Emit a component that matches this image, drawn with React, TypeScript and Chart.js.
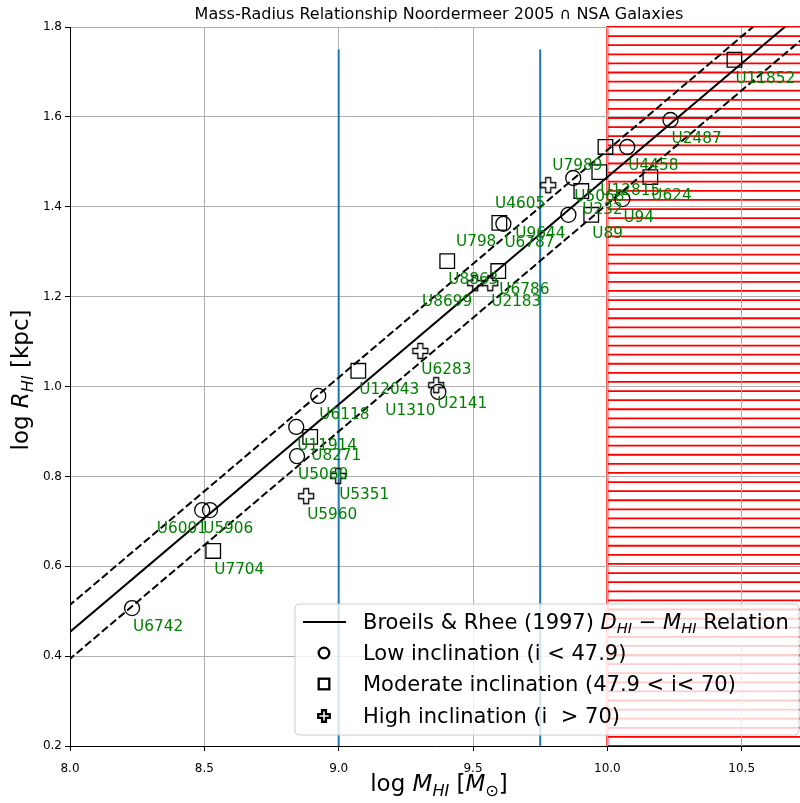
import React, { useEffect, useRef } from 'react';
import { Chart, registerables } from 'chart.js';

Chart.register(...registerables);

// ---- Galaxy samples (log M_HI [Msun], log R_HI [kpc]) ----
const lowNames = ['U6742', 'U5906', 'U6001', 'U11914', 'U5060', 'U6118', 'U1310', 'U6787', 'U9644', 'U5068', 'U4458', 'U94', 'U2487'];
const lowLogM = [8.231, 8.492, 8.521, 8.842, 8.845, 8.924, 9.371, 9.613, 9.855, 9.873, 10.074, 10.056, 10.235];
const lowLogR = [0.507, 0.725, 0.725, 0.910, 0.845, 0.979, 0.988, 1.362, 1.382, 1.464, 1.533, 1.417, 1.593];

const modNames = ['U7704', 'U8271', 'U12043', 'U8863', 'U6786', 'U798', 'U232', 'U89', 'U12815', 'U7989', 'U624', 'U11852'];
const modLogM = [8.533, 8.894, 9.073, 9.404, 9.594, 9.598, 9.903, 9.940, 9.970, 9.993, 10.160, 10.473];
const modLogR = [0.634, 0.888, 1.035, 1.279, 1.257, 1.364, 1.435, 1.382, 1.477, 1.533, 1.466, 1.727];

const highNames = ['U5960', 'U5351', 'U6283', 'U2141', 'U8699', 'U2183', 'U4605'];
const highLogM = [8.879, 8.998, 9.304, 9.363, 9.508, 9.564, 9.780];
const highLogR = [0.756, 0.801, 1.079, 1.003, 1.230, 1.230, 1.448];

// galaxies whose name is written to the left of the marker
const leftLabelNames = ['U6001', 'U7989', 'U798', 'U8699', 'U4605', 'U9644', 'U1310'];

// Broeils & Rhee (1997): log D = 0.506 log M - 3.293, with R = D / 2
const BR_SLOPE = 0.506;
const BR_INTERCEPT = -3.293 - Math.log10(2);
const BR_SCATTER = 0.06;
const LINE_X = [7.9, 11.0];

// mass limits marked with vertical lines, and the excluded high-mass region
const MASS_CUTS = [9.0, 9.75];
const CUT_TOP = 1.75;
const EXCLUDED_FROM = 10.0;

const X_MIN = 8.0;
const X_MAX = 10.717;
const Y_MIN = 0.2;
const Y_MAX = 1.8;
const X_TICKS = [8.0, 8.5, 9.0, 9.5, 10.0, 10.5];
const Y_TICKS = [0.2, 0.4, 0.6, 0.8, 1.0, 1.2, 1.4, 1.6, 1.8];

const TITLE = 'Mass-Radius Relationship Noordermeer 2005 \u2229 NSA Galaxies';
const LEGEND_LOW = 'Low inclination (i < 47.9)';
const LEGEND_MOD = 'Moderate inclination (47.9 < i< 70)';
const LEGEND_HIGH = 'High inclination (i  > 70)';

const FONT = '"DejaVu Sans", "Liberation Sans", sans-serif';

type Run = { t: string; it?: boolean; sub?: boolean };

function runFont(r: Run, size: number) {
  const s = r.sub ? size * 0.7 : size;
  return `${r.it ? 'italic ' : ''}${s}px ${FONT}`;
}

function drawRuns(ctx: CanvasRenderingContext2D, runs: Run[], x: number, y: number, size: number, align: 'left' | 'center') {
  const widths = runs.map((r) => {
    ctx.font = runFont(r, size);
    return ctx.measureText(r.t).width;
  });
  const total = widths.reduce((a, b) => a + b, 0);
  let cx = align === 'center' ? x - total / 2 : x;
  ctx.textAlign = 'left';
  ctx.textBaseline = 'alphabetic';
  runs.forEach((r, i) => {
    ctx.font = runFont(r, size);
    ctx.fillText(r.t, cx, y + (r.sub ? size * 0.2 : 0));
    cx += widths[i];
  });
}

function plusPath(ctx: CanvasRenderingContext2D, cx: number, cy: number, size: number) {
  const h = size / 2;
  const a = size / 6;
  const pts = [[-a, -h], [a, -h], [a, -a], [h, -a], [h, a], [a, a], [a, h], [-a, h], [-a, a], [-h, a], [-h, -a], [-a, -a]];
  ctx.beginPath();
  pts.forEach(([px, py], i) => (i ? ctx.lineTo(cx + px, cy + py) : ctx.moveTo(cx + px, cy + py)));
  ctx.closePath();
}

function makePlusMarker(size: number, lw: number) {
  const c = document.createElement('canvas');
  const dim = Math.ceil(size + lw * 2 + 2);
  c.width = dim;
  c.height = dim;
  const ctx = c.getContext('2d')!;
  plusPath(ctx, dim / 2, dim / 2, size);
  ctx.lineWidth = lw;
  ctx.strokeStyle = '#000';
  ctx.stroke();
  return c;
}

const pts = (xs: number[], ys: number[]) => xs.map((x, i) => ({ x, y: ys[i] }));
const relation = (offset: number) => LINE_X.map((x) => ({ x, y: BR_SLOPE * x + BR_INTERCEPT + offset }));

export default function App() {
  const ref = useRef<HTMLCanvasElement>(null);

  useEffect(() => {
    document.body.style.margin = '0';
    const canvas = ref.current!;
    const plusMarker = makePlusMarker(15, 1.3);

    const backdrop = {
      id: 'backdrop',
      beforeDraw(chart: any) {
        const { ctx, chartArea: a, scales } = chart;
        const x0 = scales.x.getPixelForValue(EXCLUDED_FROM);
        ctx.save();
        // top spine
        ctx.strokeStyle = '#000';
        ctx.lineWidth = 1;
        ctx.beginPath();
        ctx.moveTo(a.left, a.top + 0.5);
        ctx.lineTo(a.right, a.top + 0.5);
        ctx.stroke();
        // hatched excluded region
        ctx.strokeStyle = '#ff0000';
        ctx.lineWidth = 1.8;
        const n = 79;
        const gap = (a.bottom - a.top) / n;
        ctx.beginPath();
        for (let i = 0; i <= n; i++) {
          const y = a.top + i * gap;
          ctx.moveTo(x0, y);
          ctx.lineTo(a.right + 2, y);
        }
        ctx.stroke();
        ctx.lineWidth = 2;
        ctx.strokeRect(x0, a.top, a.right + 10 - x0, a.bottom - a.top);
        ctx.restore();
      },
    };

    const nameLabels = {
      id: 'nameLabels',
      afterDatasetsDraw(chart: any) {
        const { ctx, scales } = chart;
        ctx.save();
        ctx.fillStyle = '#008000';
        ctx.font = `15.3px ${FONT}`;
        ctx.textBaseline = 'alphabetic';
        const groups: [string[], number[], number[]][] = [
          [lowNames, lowLogM, lowLogR],
          [modNames, modLogM, modLogR],
          [highNames, highLogM, highLogR],
        ];
        groups.forEach(([names, xs, ys]) => {
          names.forEach((name, i) => {
            const px = scales.x.getPixelForValue(xs[i]);
            const py = scales.y.getPixelForValue(ys[i]);
            const left = leftLabelNames.includes(name);
            ctx.textAlign = left ? 'right' : 'left';
            ctx.fillText(name, left ? px - 3 : px + 1, py + 23);
          });
        });
        ctx.restore();
      },
    };

    const annotations = {
      id: 'annotations',
      afterDraw(chart: any) {
        const { ctx } = chart;
        ctx.save();
        ctx.fillStyle = '#000';
        // title
        drawRuns(ctx, [{ t: TITLE }], 439, 19, 16, 'center');
        // x axis label
        drawRuns(ctx, [{ t: 'log ' }, { t: 'M', it: true }, { t: 'HI', it: true, sub: true }, { t: ' [' }, { t: 'M', it: true }, { t: '\u2299', sub: true }, { t: ']' }], 439, 791, 23, 'center');
        // y axis label
        ctx.save();
        ctx.translate(28, 380);
        ctx.rotate(-Math.PI / 2);
        drawRuns(ctx, [{ t: 'log ' }, { t: 'R', it: true }, { t: 'HI', it: true, sub: true }, { t: ' [kpc]' }], 0, 0, 23, 'center');
        ctx.restore();

        // legend
        const L = 295, T = 604, R = 799, B = 735, rad = 4;
        ctx.beginPath();
        ctx.moveTo(L + rad, T);
        ctx.arcTo(R, T, R, B, rad);
        ctx.arcTo(R, B, L, B, rad);
        ctx.arcTo(L, B, L, T, rad);
        ctx.arcTo(L, T, R, T, rad);
        ctx.closePath();
        ctx.fillStyle = 'rgba(255,255,255,0.8)';
        ctx.fill();
        ctx.strokeStyle = '#cccccc';
        ctx.lineWidth = 1;
        ctx.stroke();

        const rows = [622, 653, 684, 716];
        const mx = 324;
        ctx.strokeStyle = '#000';
        ctx.lineWidth = 2;
        ctx.beginPath();
        ctx.moveTo(303, rows[0]);
        ctx.lineTo(346, rows[0]);
        ctx.stroke();
        ctx.lineWidth = 2.3;
        ctx.beginPath();
        ctx.arc(mx, rows[1], 5.3, 0, Math.PI * 2);
        ctx.stroke();
        ctx.strokeRect(mx - 5.3, rows[2] - 5.3, 10.6, 10.6);
        plusPath(ctx, mx, rows[3], 11.5);
        ctx.stroke();

        ctx.fillStyle = '#000';
        const tx = 363;
        const base = 7;
        const fs = 21;
        drawRuns(ctx, [{ t: 'Broeils & Rhee (1997) ' }, { t: 'D', it: true }, { t: 'HI', it: true, sub: true }, { t: ' \u2212 ' }, { t: 'M', it: true }, { t: 'HI', it: true, sub: true }, { t: ' Relation' }], tx, rows[0] + base, fs, 'left');
        drawRuns(ctx, [{ t: LEGEND_LOW }], tx, rows[1] + base, fs, 'left');
        drawRuns(ctx, [{ t: LEGEND_MOD }], tx, rows[2] + base, fs, 'left');
        drawRuns(ctx, [{ t: LEGEND_HIGH }], tx, rows[3] + base, fs, 'left');
        ctx.restore();
      },
    };

    const lineDs = (data: any[], dash: number[]) => ({
      data,
      showLine: true,
      borderColor: '#000',
      borderWidth: 2,
      borderDash: dash,
      pointRadius: 0,
      pointHoverRadius: 0,
      fill: false,
    });

    const markerDs = (data: any[], style: any, radius: number) => ({
      data,
      showLine: false,
      pointStyle: style,
      pointRadius: radius,
      pointHoverRadius: radius,
      pointBackgroundColor: 'rgba(0,0,0,0)',
      pointBorderColor: '#000',
      pointBorderWidth: 1.3,
    });

    const datasets: any[] = [
      markerDs(pts(lowLogM, lowLogR), 'circle', 7.5),
      markerDs(pts(modLogM, modLogR), 'rect', 10.3),
      markerDs(pts(highLogM, highLogR), plusMarker, 8),
      lineDs(relation(0), []),
      lineDs(relation(BR_SCATTER), [7.7, 3.3]),
      lineDs(relation(-BR_SCATTER), [7.7, 3.3]),
      ...MASS_CUTS.map((m) => ({
        data: [{ x: m, y: Y_MIN }, { x: m, y: CUT_TOP }],
        showLine: true,
        borderColor: '#1f77b4',
        borderWidth: 2,
        pointRadius: 0,
        pointHoverRadius: 0,
      })),
    ];

    const tickFont = { family: FONT, size: 12 };

    const chart = new Chart(canvas, {
      type: 'scatter',
      data: { datasets },
      plugins: [backdrop, nameLabels, annotations],
      options: {
        responsive: false,
        animation: false,
        devicePixelRatio: 1,
        layout: { autoPadding: false, padding: { top: 27, right: 0, bottom: 0, left: 0 } },
        plugins: { legend: { display: false }, tooltip: { enabled: false }, title: { display: false } },
        scales: {
          x: {
            type: 'linear',
            min: X_MIN,
            max: X_MAX,
            ticks: {
              font: tickFont,
              color: '#000',
              padding: 11,
              maxRotation: 0,
              autoSkip: false,
              callback: (v: any) => Number(v).toFixed(1),
            },
            grid: { color: '#b0b0b0', lineWidth: 1, tickLength: 5, tickColor: '#000' },
            border: { color: '#000', width: 1 },
            afterBuildTicks: (s: any) => {
              s.ticks = X_TICKS.map((value) => ({ value }));
            },
            afterFit: (s: any) => {
              s.height = 57;
              s.paddingLeft = 0;
              s.paddingRight = 0;
            },
          },
          y: {
            type: 'linear',
            min: Y_MIN,
            max: Y_MAX,
            ticks: {
              font: tickFont,
              color: '#000',
              padding: 3,
              callback: (v: any) => Number(v).toFixed(1),
            },
            grid: { color: '#b0b0b0', lineWidth: 1, tickLength: 5, tickColor: '#000' },
            border: { color: '#000', width: 1 },
            afterBuildTicks: (s: any) => {
              s.ticks = Y_TICKS.map((value) => ({ value }));
            },
            afterFit: (s: any) => {
              s.width = 70;
              s.paddingTop = 0;
              s.paddingBottom = 0;
            },
          },
        },
      } as any,
    });

    return () => chart.destroy();
  }, []);

  return <canvas ref={ref} width={800} height={803} style={{ display: 'block' }} />;
}
